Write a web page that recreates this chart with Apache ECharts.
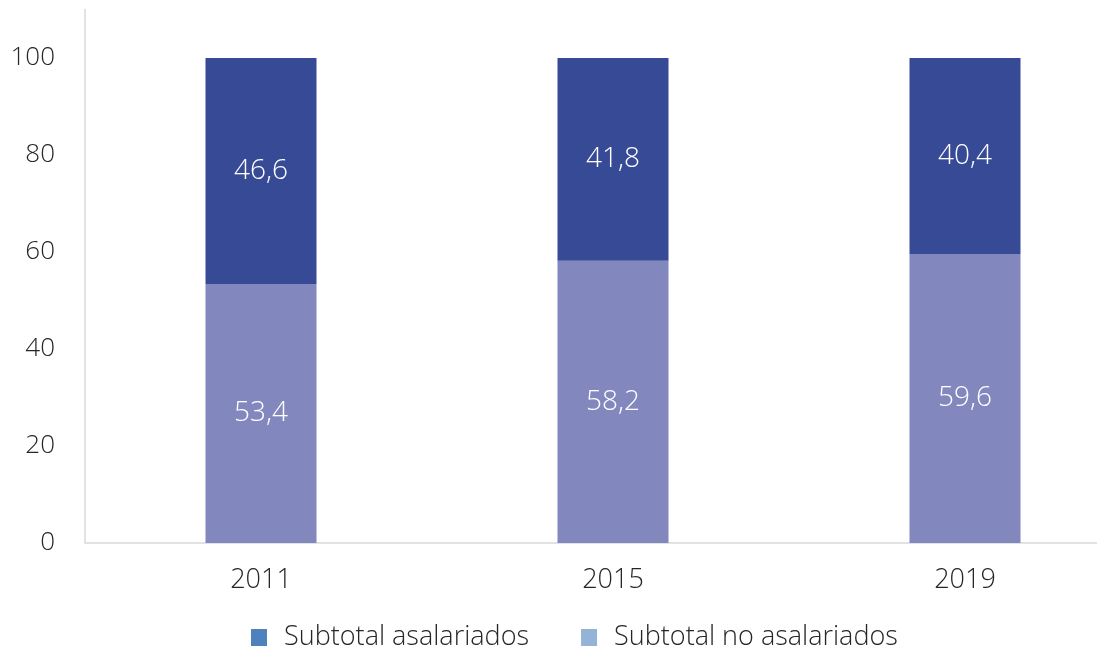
<!DOCTYPE html>
<html>
<head>
<meta charset="utf-8">
<script src="https://cdn.jsdelivr.net/npm/echarts@6/dist/echarts.min.js"></script>
<style>html,body{margin:0;padding:0;background:#fff;overflow:hidden;width:1097px;height:647px;}#c{width:1141px;height:647px;}</style>
</head>
<body>
<div id="c"></div>
<script>
const categories = ['2011', '2015', '2019'];
const asalariados = [46.6, 41.8, 40.4];
const noAsalariados = [53.4, 58.2, 59.6];
const yTicks = [0, 20, 40, 60, 80, 100];

const FONT = '"Open Sans", "Liberation Sans", sans-serif';
const chart = echarts.init(document.getElementById('c'), null, {renderer: 'canvas'});
const fmt = p => String(p.value).replace('.', ',');
chart.setOption({
  animation: false,
  backgroundColor: '#ffffff',
  grid: {left: 85, right: 0, top: 9.5, bottom: 104, containLabel: false},
  legend: {
    top: 619,
    left: 246,
    itemWidth: 16,
    itemHeight: 17,
    itemGap: 52,
    textStyle: {fontFamily: FONT, fontSize: 27, color: '#262626', fontWeight: 300, padding: [0, 0, 0, 12]},
    data: [
      {name: 'Subtotal asalariados', icon: 'rect', itemStyle: {color: '#4F81BD'}},
      {name: 'Subtotal no asalariados', icon: 'rect', itemStyle: {color: '#95B3D7'}}
    ]
  },
  xAxis: {
    type: 'category',
    data: categories,
    axisLine: {lineStyle: {color: '#d9d9d9', width: 1.5}},
    axisTick: {show: false},
    axisLabel: {fontFamily: FONT, fontSize: 27, fontWeight: 300, color: '#262626', margin: 24}
  },
  yAxis: {
    type: 'value',
    min: 0, max: 110, interval: 10,
    axisLine: {show: true, lineStyle: {color: '#d9d9d9', width: 1.5}},
    axisTick: {show: false},
    splitLine: {show: false},
    axisLabel: {
      fontFamily: FONT, fontSize: 26, fontWeight: 300, color: '#262626', margin: 30,
      formatter: v => yTicks.includes(v) ? String(v) : ''
    }
  },
  series: [
    {
      name: 'Subtotal no asalariados', type: 'bar', stack: 's', barWidth: 111,
      data: noAsalariados,
      itemStyle: {color: '#8288BE'},
      label: {show: true, position: 'inside', color: '#ffffff', fontFamily: FONT, fontSize: 28, fontWeight: 300, formatter: fmt}
    },
    {
      name: 'Subtotal asalariados', type: 'bar', stack: 's', barWidth: 111,
      data: asalariados,
      itemStyle: {color: '#374A95'},
      label: {show: true, position: 'inside', color: '#ffffff', fontFamily: FONT, fontSize: 28, fontWeight: 300, formatter: fmt}
    }
  ]
});
</script>
</body>
</html>
